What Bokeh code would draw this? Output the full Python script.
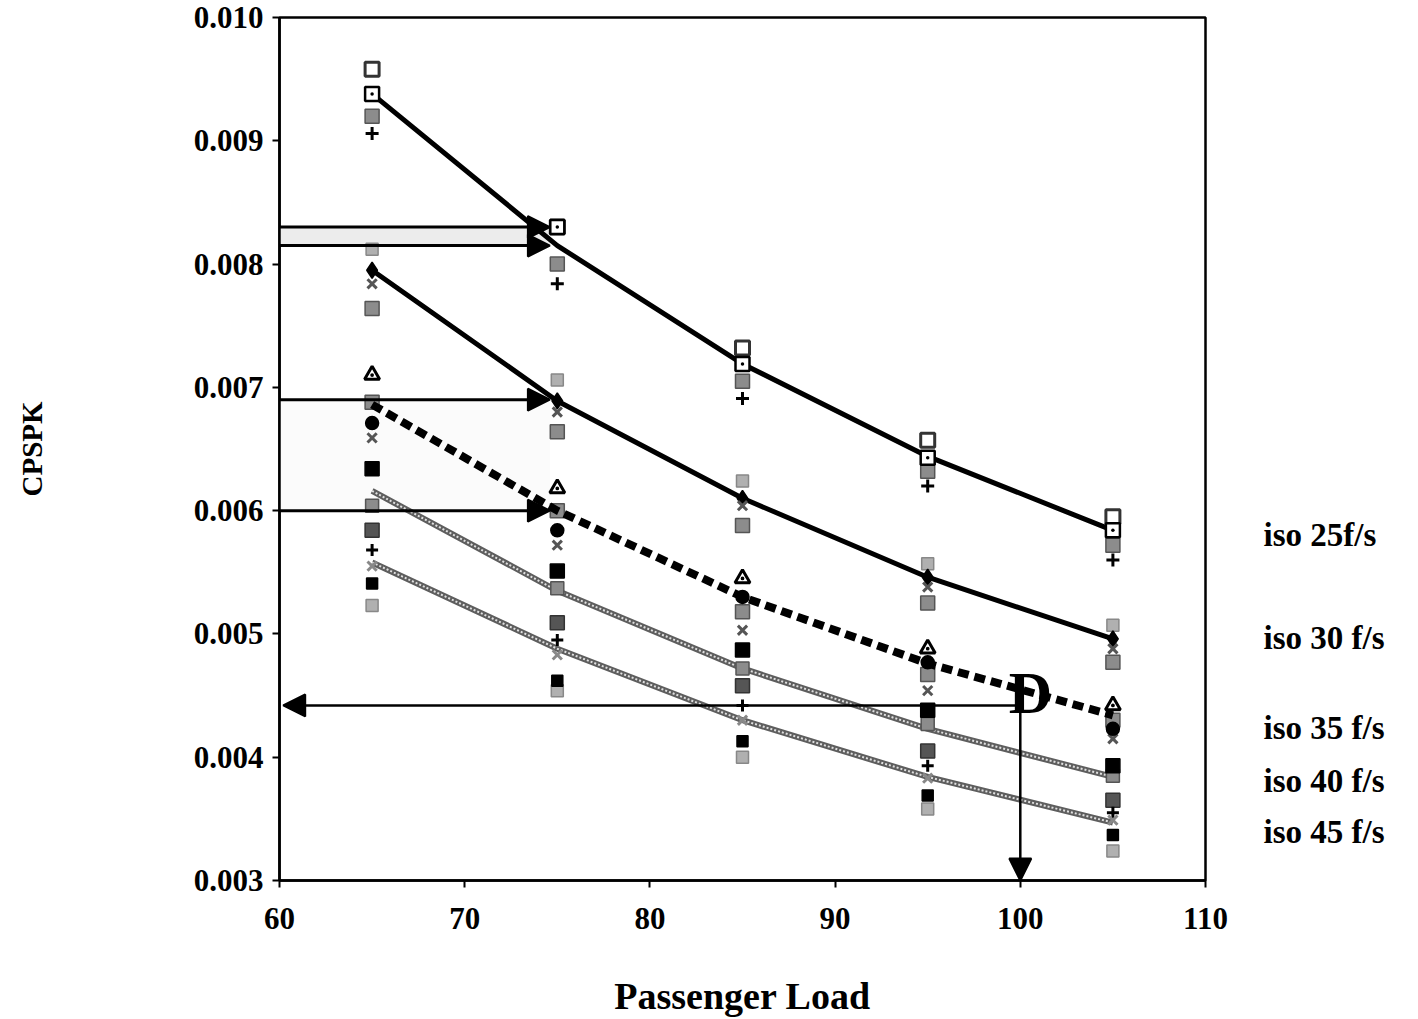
from bokeh.plotting import figure
from bokeh.models import (Arrow, NormalHead, Label, SingleIntervalTicker, FixedTicker,
                          NumeralTickFormatter, Range1d, LinearAxis)
from bokeh.embed import file_html
from bokeh.resources import INLINE

# ---------------- data ----------------
loads = [65, 75, 85, 95, 105]

# iso-speed fitted lines
iso25 = [0.00938, 0.00815, 0.00719, 0.00644, 0.00584]
iso30 = [0.00795, 0.00689, 0.00610, 0.00546, 0.00496]
iso35 = [0.00686, 0.00600, 0.00530, 0.00476, 0.00434]
iso40 = [0.00616, 0.00535, 0.00472, 0.00423, 0.00384]
iso45 = [0.00558, 0.00488, 0.00430, 0.00384, 0.00347]

# scattered design points (grouped by marker style)
hollow_sq = [0.00958, 0.00830, 0.00732, 0.00657, 0.00595]
dot_sq = [0.00938, 0.00830, 0.00719, 0.00643, 0.00584]
plus_a = [0.00906, 0.00784, 0.00691, 0.00620, 0.00560]
stip_a = [0.00920, 0.00800, 0.00705, 0.00632, 0.00572]
stip_b = [0.00812, 0.00706, 0.00624, 0.00557, 0.00507]
diamond = [0.00795, 0.00689, 0.00610, 0.00546, 0.00496]
x_b = [0.00784, 0.00680, 0.00604, 0.00538, 0.00488]
stip_c = [0.00764, 0.00664, 0.00588, 0.00525, 0.00477]
triangle = [0.00710, 0.00618, 0.00545, 0.00488, 0.00442]
stip_d = [0.00688, 0.00600, 0.00518, 0.00467, 0.00430]
circle_d = [0.00671, 0.00584, 0.00530, 0.00477, 0.00423]
x_d = [0.00659, 0.00572, 0.00503, 0.00454, 0.00415]
square_e = [0.00634, 0.00551, 0.00487, 0.00438, 0.00393]
stip_e = [0.00604, 0.00537, 0.00472, 0.00427, 0.00385]
dense_e = [0.00584, 0.00509, 0.00458, 0.00405, 0.00365]
plus_e = [0.00568, 0.00495, 0.00442, 0.00393, 0.00355]
x_f = [0.00555, 0.00483, 0.00430, 0.00383, 0.00349]
square_f = [0.00541, 0.00462, 0.00413, 0.00369, 0.00337]
stip_f = [0.00523, 0.00454, 0.00400, 0.00358, 0.00324]

# reading arrows
read_top = [0.00830, 0.00815]
read_mid = [0.00690, 0.00600]
read_x_end = [74.6, 74.6]
design_load = 100.0
design_cpspk = 0.00442

iso_labels = ["iso 25f/s", "iso 30 f/s", "iso 35 f/s", "iso 40 f/s", "iso 45 f/s"]
iso_label_y = [0.00580, 0.00497, 0.00424, 0.00381, 0.00339]

# ---------------- figure ----------------
p = figure(frame_width=926, frame_height=863, output_backend="svg", toolbar_location=None,
           x_range=Range1d(60, 110), y_range=Range1d(0.003, 0.010),
           min_border_left=279, min_border_right=205, min_border_top=17, min_border_bottom=120)
p.grid.visible = False
p.outline_line_color = "black"
p.outline_line_width = 2.5
p.background_fill_color = "white"

for ax in (p.xaxis[0], p.yaxis[0]):
    ax.axis_line_width = 2.5
    ax.major_tick_line_width = 2
    ax.major_tick_out = 7
    ax.major_tick_in = 0
    ax.minor_tick_line_color = None
    ax.major_label_text_font = "Liberation Serif"
    ax.major_label_text_font_style = "bold"
    ax.major_label_text_font_size = "31px"
    ax.major_label_text_color = "black"
    ax.axis_label_text_font = "Liberation Serif"
    ax.axis_label_text_font_style = "bold"
    ax.axis_label_text_color = "black"

p.xaxis[0].ticker = SingleIntervalTicker(interval=10)
p.yaxis[0].ticker = SingleIntervalTicker(interval=0.001)
p.yaxis[0].formatter = NumeralTickFormatter(format="0.000")
p.xaxis[0].major_label_standoff = 20
p.yaxis[0].major_label_standoff = 9

p.xaxis[0].axis_label = "Passenger Load"
p.xaxis[0].axis_label_text_font_size = "38px"
p.xaxis[0].axis_label_standoff = 43
p.yaxis[0].axis_label = "CPSPK"
p.yaxis[0].axis_label_text_font_size = "29px"
p.yaxis[0].axis_label_standoff = 143

# right-hand iso labels as an unlined axis
right = LinearAxis(ticker=FixedTicker(ticks=iso_label_y),
                   major_label_overrides={v: t for v, t in zip(iso_label_y, iso_labels)},
                   axis_line_color=None, major_tick_line_color=None, minor_tick_line_color=None,
                   major_label_standoff=52, major_label_text_font="Liberation Serif",
                   major_label_text_font_style="bold", major_label_text_font_size="33px",
                   major_label_text_color="black")
p.add_layout(right, "right")

# shaded band between the two upper reading lines
p.varea(x=[60, read_x_end[0]], y1=[read_top[1]] * 2, y2=[read_top[0]] * 2,
        fill_color="#ececec")
p.varea(x=[60, read_x_end[0]], y1=[read_mid[1]] * 2, y2=[read_mid[0]] * 2,
        fill_color="#fbfbfb")

# fitted lines
p.line(loads, iso25, line_color="black", line_width=5)
p.line(loads, iso30, line_color="black", line_width=5)
for ys in (iso40, iso45):
    p.line(loads, ys, line_color="#5e5e5e", line_width=6)
    p.line(loads, ys, line_color="#e0e0e0", line_width=2, line_dash="2 2")

# markers
gray = "#8c8c8c"
def mk(ys, marker, fill, line="black", size=13, lw=1.5):
    p.scatter(loads, ys, marker=marker, size=size, fill_color=fill, line_color=line, line_width=lw)

mk(stip_a, "square", gray, line="#555555", size=14)
mk(stip_b, "square", "#b0b0b0", line="#888888", size=12)
mk(stip_c, "square", gray, line="#555555", size=14)
mk(stip_d, "square", gray, line="#555555", size=14)
mk(stip_e, "square", gray, line="#555555", size=13)
mk(dense_e, "square", "#555555", line="#333333", size=14)
mk(stip_f, "square", "#b0b0b0", line="#888888", size=12)
mk(hollow_sq, "square", "white", line="#333333", size=14, lw=3)
mk(dot_sq, "square_dot", "white", line="black", size=14, lw=2.5)
mk(plus_a, "cross", None, line="black", size=13, lw=3)
mk(plus_e, "cross", None, line="black", size=12, lw=3)
mk(diamond, "diamond", "black", size=16)
mk(x_b, "x", None, line="#555555", size=13, lw=3)
mk(x_d, "x", None, line="#555555", size=13, lw=3)
mk(x_f, "x", None, line="#888888", size=13, lw=3)
mk(triangle, "triangle_dot", "white", line="black", size=15, lw=3)
mk(circle_d, "circle", "black", size=13)
mk(square_e, "square", "black", size=14)
mk(square_f, "square", "black", size=11)

# dashed iso-35 line on top of markers
p.line(loads, iso35, line_color="black", line_width=8, line_dash="11 6")

def head():
    return NormalHead(size=22, fill_color="black", line_color="black", line_width=2)

# reading arrows from the axis
for yv, xe in zip(read_top + read_mid, read_x_end * 2):
    p.add_layout(Arrow(end=head(), x_start=60, y_start=yv, x_end=xe, y_end=yv,
                       line_color="black", line_width=3))

# design point D with arrows
p.add_layout(Arrow(end=head(), x_start=design_load, y_start=design_cpspk, x_end=60.2,
                   y_end=design_cpspk, line_color="black", line_width=2.5))
p.add_layout(Arrow(end=head(), x_start=design_load, y_start=design_cpspk, x_end=design_load,
                   y_end=0.003, line_color="black", line_width=2.5))
p.add_layout(Label(x=design_load + 0.55, y=design_cpspk, text="D", text_font="Liberation Serif",
                   text_font_style="bold", text_font_size="60px", text_align="center",
                   text_baseline="middle", y_offset=12, text_color="black"))

open("out.html", "w").write(file_html(p, INLINE))
